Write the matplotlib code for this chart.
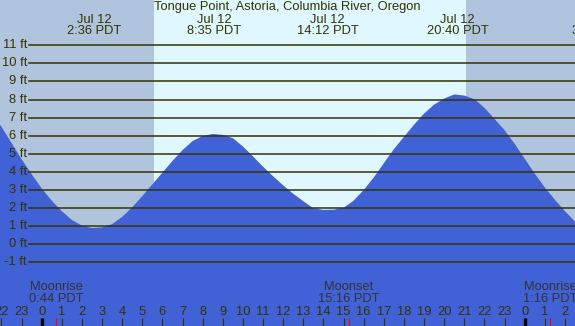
import matplotlib
matplotlib.use("Agg")
import matplotlib.pyplot as plt

# tide height (ft), read every half hour, hours relative to Jul 12 00:00
hours = [-2.1, -2.0, -1.5, -1.0, -0.5, 0.0, 0.5, 1.0, 1.5, 2.0, 2.5, 3.0, 3.5, 4.0,
         4.5, 5.0, 5.5, 6.0, 6.5, 7.0, 7.5, 8.0, 8.5, 9.0, 9.5, 10.0, 10.5, 11.0,
         11.5, 12.0, 12.5, 13.0, 13.5, 14.0, 14.5, 15.0, 15.5, 16.0, 16.5, 17.0,
         17.5, 18.0, 18.5, 19.0, 19.5, 20.0, 20.5, 21.0, 21.5, 22.0, 22.5, 23.0,
         23.5, 24.0, 24.5, 25.0, 25.5, 26.0, 26.5]
heights = [6.65, 6.5, 5.6, 4.7, 3.87, 3.08, 2.4, 1.82, 1.33, 1.02, 0.88, 0.92, 1.1, 1.5,
           2.03, 2.65, 3.3, 3.95, 4.6, 5.2, 5.7, 5.98, 6.09, 6.04, 5.86, 5.4, 4.85, 4.28,
           3.75, 3.25, 2.78, 2.37, 1.98, 1.89, 1.9, 2.0, 2.4, 2.99, 3.68, 4.47,
           5.25, 5.93, 6.6, 7.22, 7.72, 8.05, 8.28, 8.22, 8.02, 7.54, 6.93, 6.3,
           5.55, 4.72, 3.9, 3.13, 2.45, 1.82, 1.24]

# high / low tide labels
extreme_hours = [2.6, 8.583, 14.2, 20.667, 27.7]
extreme_labels = ["Jul 12\n2:36 PDT", "Jul 12\n8:35 PDT", "Jul 12\n14:12 PDT",
                  "Jul 12\n20:40 PDT", "Jul 13\n3:42 PDT"]

# moon events
moon_hours = [0.733, 15.267, 25.267]
moon_labels = ["Moonrise\n0:44 PDT", "Moonset\n15:16 PDT", "Moonrise\n1:16 PDT"]

sunrise, sunset = 5.58, 21.08
feet = list(range(-1, 12))
hour_ticks = list(range(-2, 27))

x0, x1 = -2.07, 26.5
y0, y1 = -4.54, 13.51

night = "#b0c4de"
day = "#dff7fe"
water = "#4161d6"
ink = "#333300"

plt.rcParams["font.family"] = ["Liberation Sans", "DejaVu Sans"]
fs = 9.3

fig = plt.figure(figsize=(5.75, 3.26), dpi=100)
ax = fig.add_axes([0, 0, 1, 1])
ax.set_xlim(x0, x1)
ax.set_ylim(y0, y1)
ax.axis("off")

ax.axvspan(x0, sunrise, color=night, lw=0, zorder=0)
ax.axvspan(sunrise, sunset, color=day, lw=0, zorder=0)
ax.axvspan(sunset, x1, color=night, lw=0, zorder=0)

ax.fill_between(hours, heights, y0, color=water, lw=0, zorder=1)

xt = ax.get_xaxis_transform()
yt = ax.get_yaxis_transform()

for f in feet:
    ax.axhline(f, xmin=29 / 575, xmax=1, color=ink, lw=1.1, zorder=2)
    ax.text(27 / 575, f, "%d ft" % f, transform=yt, ha="right", va="center",
            fontsize=fs, color=ink, zorder=3)

ax.text(0.5, 1 - 7 / 326, "Tongue Point, Astoria, Columbia River, Oregon",
        transform=ax.transAxes, ha="center", va="center", fontsize=fs, color=ink)

for h, lab in zip(extreme_hours, extreme_labels):
    ax.text(h, 1 - 25.5 / 326, lab, transform=xt, ha="center", va="center",
            fontsize=fs, color=ink, linespacing=0.95)

for h in hour_ticks:
    ax.vlines(h, 0, 8 / 326, transform=xt, color=ink, lw=0.8, zorder=3)
    ax.text(h, 14 / 326, str(h % 24), transform=xt, ha="center", va="center",
            fontsize=fs, color=ink, zorder=3)

for h in [0, 24]:
    ax.vlines(h, 0, 8 / 326, transform=xt, color="black", lw=2.4, zorder=3)

for h, lab in zip(moon_hours, moon_labels):
    ax.vlines(h, 0, 8 / 326, transform=xt, color="red", lw=0.8, zorder=3)
    ax.text(h, 33 / 326, lab, transform=xt, ha="center", va="center",
            fontsize=fs, color="#333333", linespacing=0.95, zorder=3)

fig.savefig("out.png", dpi=100)
